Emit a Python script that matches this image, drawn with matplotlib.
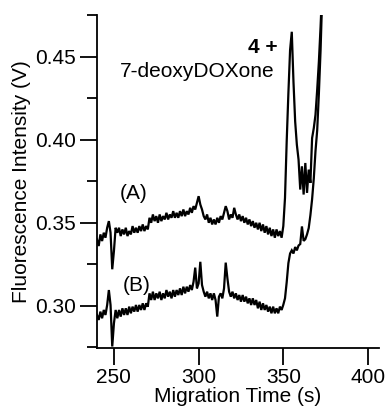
import numpy as np
import matplotlib
matplotlib.use("Agg")
import matplotlib.pyplot as plt
from matplotlib.ticker import MultipleLocator

plt.rcParams['font.family'] = ['Liberation Sans', 'DejaVu Sans']

# Migration time grid (s), 1 s sampling
time_s = np.arange(240, 376, 1.0)

trace_A = [
    0.340, 0.336, 0.343, 0.339, 0.344, 0.341, 0.347, 0.351, 0.344, 0.322,
    0.333, 0.347, 0.344, 0.347, 0.342, 0.346, 0.343, 0.347, 0.342, 0.345,
    0.343, 0.348, 0.344, 0.347, 0.344, 0.348, 0.345, 0.349, 0.345, 0.348,
    0.346, 0.353, 0.350, 0.355, 0.351, 0.354, 0.350, 0.355, 0.351, 0.354,
    0.352, 0.356, 0.352, 0.355, 0.353, 0.357, 0.353, 0.356, 0.353, 0.357,
    0.354, 0.358, 0.354, 0.357, 0.355, 0.359, 0.356, 0.360, 0.358, 0.362,
    0.366, 0.361, 0.358, 0.354, 0.352, 0.355, 0.350, 0.353, 0.349, 0.352,
    0.349, 0.353, 0.350, 0.354, 0.352, 0.356, 0.360, 0.357, 0.352, 0.355,
    0.353, 0.359, 0.355, 0.352, 0.355, 0.351, 0.354, 0.350, 0.353, 0.349,
    0.352, 0.348, 0.351, 0.347, 0.350, 0.346, 0.350, 0.345, 0.349, 0.344,
    0.348, 0.343, 0.347, 0.342, 0.346, 0.341, 0.346, 0.342, 0.345, 0.341,
    0.348, 0.365, 0.399, 0.428, 0.454, 0.465, 0.435, 0.411, 0.397, 0.388,
    0.370, 0.384, 0.367, 0.386, 0.368, 0.382, 0.374, 0.401, 0.407, 0.415,
    0.430, 0.447, 0.468, 0.4925, 0.517, 0.546,
]

trace_B = [
    0.2945, 0.2915, 0.2965, 0.2925, 0.2975, 0.2945, 0.3005, 0.3095, 0.3005, 0.2755,
    0.2895, 0.2975, 0.2925, 0.2975, 0.2935, 0.2985, 0.2945, 0.2985, 0.2945, 0.2995,
    0.2955, 0.2995, 0.2965, 0.3005, 0.2965, 0.3005, 0.2975, 0.3015, 0.2975, 0.3015,
    0.2995, 0.3075, 0.3035, 0.3085, 0.3035, 0.3075, 0.3045, 0.3085, 0.3035, 0.3075,
    0.3045, 0.3095, 0.3055, 0.3085, 0.3045, 0.3095, 0.3055, 0.3095, 0.3065, 0.3105,
    0.3065, 0.3115, 0.3075, 0.3115, 0.3085, 0.3125, 0.3095, 0.3145, 0.3230, 0.3105,
    0.3135, 0.3265, 0.3125, 0.3085, 0.3055, 0.3085, 0.3045, 0.3075, 0.3035, 0.3075,
    0.3035, 0.2935, 0.3055, 0.3075, 0.3045, 0.3105, 0.3260, 0.3165, 0.3085, 0.3055,
    0.3085, 0.3045, 0.3075, 0.3035, 0.3065, 0.3025, 0.3065, 0.3025, 0.3055, 0.3015,
    0.3045, 0.3005, 0.3045, 0.3005, 0.3035, 0.2985, 0.3025, 0.2975, 0.3015, 0.2975,
    0.3005, 0.2965, 0.2995, 0.2955, 0.2995, 0.2955, 0.2985, 0.2955, 0.2995, 0.2975,
    0.3006, 0.3045, 0.3142, 0.3257, 0.3315, 0.3334, 0.3315, 0.3354, 0.3334, 0.3363,
    0.3372, 0.3478, 0.3391, 0.3401, 0.3430, 0.3468, 0.3546, 0.3642, 0.3767, 0.3931,
    0.4056, 0.4278, 0.4538, 0.4876, 0.5165, 0.5454,
]

x_ticks = [250, 300, 350, 400]
y_ticks = [0.30, 0.35, 0.40, 0.45]

fig = plt.figure(figsize=(3.9, 4.12), dpi=100)
ax = fig.add_axes([97/390, 1 - 347.5/412, (379 - 97)/390, (347.5 - 15)/412])

ax.plot(time_s, trace_A, color='black', lw=1.6, solid_joinstyle='miter')
ax.plot(time_s, trace_B, color='black', lw=1.6, solid_joinstyle='miter')

ax.set_xlim(240, 406.5)
ax.set_ylim(0.2749, 0.4751)

ax.set_xticks(x_ticks)
ax.set_yticks(y_ticks)
ax.set_yticklabels([f"{v:.2f}" for v in y_ticks])
ax.yaxis.set_minor_locator(MultipleLocator(0.025))

for s in ['top', 'right']:
    ax.spines[s].set_visible(False)
for s in ['left', 'bottom']:
    ax.spines[s].set_linewidth(1.3)

ax.tick_params(axis='both', which='major', direction='out', length=12, width=1.3,
               labelsize=15, pad=3)
ax.tick_params(axis='y', which='minor', direction='out', length=7, width=1.3)

ax.set_xlabel('Migration Time (s)', fontsize=15, labelpad=0)
ax.set_ylabel('Fluorescence Intensity (V)', fontsize=15, labelpad=3)

ax.text(261.8, 0.3678, '(A)', fontsize=15, ha='center', va='center')
ax.text(263.2, 0.3123, '(B)', fontsize=15, ha='center', va='center')
ax.text(346.5, 0.4554, '4 +', fontsize=15, ha='right', va='center', fontweight='bold')
ax.text(344.7, 0.4413, '7-deoxyDOXone', fontsize=15, ha='right', va='center')

fig.savefig('out.png', dpi=100)
